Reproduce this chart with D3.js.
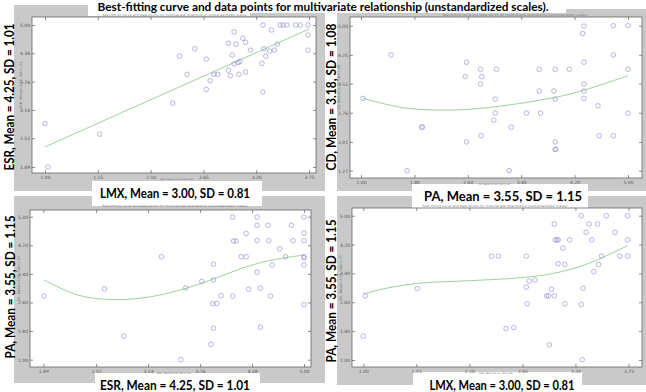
<!DOCTYPE html>
<html>
<head>
<meta charset="utf-8">
<script src="https://cdn.jsdelivr.net/npm/d3@7"></script>
<style>
body { margin: 0; background: #fff; }
svg { display: block; }
.lbl { font-family: Lato, "Open Sans", sans-serif; font-weight: 700; fill: #000; }
.tiny { font-family: "DejaVu Sans", sans-serif; fill: #777; }
.tk text { font-family: "DejaVu Sans", sans-serif; font-size: 4.5px; fill: #555; }
.tk line { stroke: #444; stroke-width: 0.6; }
</style>
</head>
<body>
<svg id="chart" width="646" height="392"></svg>
<script>
// tick labels
const lmxTicks = [1.00, 1.55, 2.10, 2.65, 3.20, 3.75];
const esrTicks = [1.89, 2.52, 3.14, 3.76, 4.38, 5.00];
const cdTicks  = [1.27, 2.01, 2.76, 3.51, 4.25, 5.00];
const paTicks  = [1.00, 1.80, 2.60, 3.40, 4.20, 5.00];

// LMX (x) vs ESR (y)
const lmxEsrX = [1.00,1.03,1.57,2.33,2.40,2.48,2.56,2.68,2.68,2.72,2.76,2.80,2.91,2.91,2.93,2.95,2.97,2.99,2.97,3.01,3.03,3.02,3.06,3.09,3.09,3.14,3.27,3.26,3.27,3.28,3.30,3.34,3.39,3.36,3.42,3.45,3.48,3.52,3.61,3.66,3.74,3.74,3.74];
const lmxEsrY = [2.84,1.89,2.61,3.29,4.32,3.92,4.48,4.25,3.59,3.78,3.92,3.92,4.60,4.01,3.89,4.34,4.85,4.58,4.15,4.18,4.20,3.92,4.71,4.62,3.97,4.45,5.00,4.16,3.53,4.48,4.32,4.43,4.45,4.89,4.58,5.00,5.00,5.00,5.00,5.00,5.00,4.78,4.45];
const lmxEsrCurveX = [1.00, 3.75];
const lmxEsrCurveY = [2.33, 4.91];

// PA (x) vs CD (y)
const paCdX = [1.03,1.45,1.69,1.91,1.92,2.58,2.56,2.58,2.79,2.81,2.79,2.80,3.03,3.01,3.01,2.99,3.22,3.25,3.48,3.67,3.67,3.69,3.91,3.89,3.91,3.91,3.91,3.92,4.12,4.32,4.34,4.34,4.34,4.34,4.34,4.55,4.57,4.78,4.78,4.78,5.00,5.00,5.00];
const paCdY = [3.13,4.25,1.27,2.39,2.39,4.06,3.69,2.01,3.88,3.69,3.50,2.17,3.88,3.11,2.75,2.57,1.27,2.39,2.75,3.88,3.32,2.75,3.88,3.32,3.11,2.01,1.82,1.82,3.88,4.80,4.99,4.06,3.50,3.32,3.13,2.94,2.17,5.00,4.25,2.17,5.00,3.88,2.75];
const paCdCurveX = [1.03, 1.63, 2.13, 2.63, 3.13, 3.63, 4.13, 4.63, 5.00];
const paCdCurveY = [3.13, 2.89, 2.83, 2.85, 2.94, 3.07, 3.24, 3.50, 3.71];

// ESR (x) vs PA (y)
const esrPaX = [1.90,2.62,2.85,3.30,3.53,3.59,3.78,3.89,3.92,3.91,3.96,3.92,3.92,4.01,4.15,4.16,4.19,4.15,4.25,4.31,4.31,4.34,4.44,4.44,4.44,4.44,4.48,4.48,4.57,4.58,4.60,4.62,4.71,4.78,4.85,4.87,5.00,5.00,5.00,5.00,5.00,5.00,5.00];
const esrPaY = [2.78,2.98,1.66,3.88,1.00,3.01,3.19,1.43,1.88,2.57,2.57,3.23,3.67,2.79,4.99,4.32,4.32,2.78,3.88,4.53,3.88,2.97,4.99,4.76,4.33,3.45,3.00,1.91,4.76,4.33,2.78,3.65,4.10,3.88,4.76,4.33,4.99,4.54,4.33,3.88,3.85,3.65,2.54];
const esrPaCurveX = [1.90, 2.30, 2.73, 3.17, 3.60, 3.92, 4.24, 4.56, 5.00];
const esrPaCurveY = [3.23, 2.81, 2.68, 2.76, 3.00, 3.26, 3.54, 3.76, 3.93];

// LMX (x) vs PA (y)
const lmxPaX = [1.00,1.02,1.56,2.33,2.40,2.48,2.56,2.69,2.69,2.72,2.70,2.78,2.90,2.92,2.93,2.95,2.98,2.98,2.99,3.01,3.02,3.02,3.07,3.09,3.09,3.14,3.26,3.26,3.27,3.28,3.31,3.34,3.37,3.39,3.43,3.44,3.47,3.52,3.61,3.66,3.74,3.74,3.74];
const lmxPaY = [1.66,2.78,2.98,3.88,3.88,1.87,1.90,3.88,3.02,3.19,2.56,3.22,2.78,2.78,1.42,2.96,2.78,4.77,4.33,4.33,4.33,3.67,4.10,3.65,2.56,4.33,5.00,2.54,1.01,2.99,4.54,4.77,4.33,3.45,4.77,3.65,3.88,5.00,4.54,3.88,5.00,4.33,3.88];
const lmxPaCurveX = [1.00, 1.24, 1.59, 2.11, 2.63, 2.97, 3.32, 3.74];
const lmxPaCurveY = [2.83, 2.99, 3.13, 3.20, 3.28, 3.40, 3.66, 4.17];

const figTitle = "Best-fitting curve and data points for multivariate relationship (unstandardized scales).";

// layout: gray = figure background, frame = axes box, xr/yr = pixel span of first..last tick
const panels = [
  {xs: lmxEsrX, ys: lmxEsrY, cx: lmxEsrCurveX, cy: lmxEsrCurveY, xt: lmxTicks, yt: esrTicks,
   xLabel: "LMX, Mean = 3.00, SD = 0.81", yLabel: "ESR, Mean = 4.25, SD = 1.01",
   gray: [14, 5, 311, 186], frame: [32, 17, 316, 173], xr: [45, 309], yr: [167, 25],
   box: [92, 181, 262, 206], xl: [175, 198, 150], yl: [14, 97, 147], tt: [175, 16.4]},
  {xs: paCdX, ys: paCdY, cx: paCdCurveX, cy: paCdCurveY, xt: paTicks, yt: cdTicks,
   xLabel: "PA, Mean = 3.55, SD = 1.15", yLabel: "CD, Mean = 3.18, SD = 1.08",
   gray: [337, 9, 309, 182], frame: [350, 17, 642, 178], xr: [361, 628], yr: [170.7, 25.7],
   box: [412, 184, 588, 208], xl: [503, 200.5, 158], yl: [335.5, 97, 147], tt: [515, 16.4]},
  {xs: esrPaX, ys: esrPaY, cx: esrPaCurveX, cy: esrPaCurveY, xt: esrTicks, yt: paTicks,
   xLabel: "ESR, Mean = 4.25, SD = 1.01", yLabel: "PA, Mean = 3.55, SD = 1.15",
   gray: [14, 196, 311, 187], frame: [30, 210, 311, 367], xr: [43.3, 304], yr: [359.7, 216.7],
   box: [95, 373, 260, 392], xl: [175, 389.5, 150], yl: [14.5, 287, 143], tt: [175, 206.5]},
  {xs: lmxPaX, ys: lmxPaY, cx: lmxPaCurveX, cy: lmxPaCurveY, xt: lmxTicks, yt: paTicks,
   xLabel: "LMX, Mean = 3.00, SD = 0.81", yLabel: "PA, Mean = 3.55, SD = 1.15",
   gray: [337, 196, 309, 189], frame: [352, 208, 642, 367], xr: [363.3, 628.5], yr: [360, 215.7],
   box: [413, 372, 582, 392], xl: [502, 390, 145], yl: [335.5, 291, 143], tt: [495, 207]}
];

const svg = d3.select("#chart");
const fmt = d3.format(".2f");

// gray figure backgrounds first, then white label boxes on top of them
panels.forEach(p => {
  svg.append("rect").attr("x", p.gray[0]).attr("y", p.gray[1])
    .attr("width", p.gray[2]).attr("height", p.gray[3]).attr("fill", "#c9c9c9");
});
svg.append("rect").attr("x", 88).attr("y", 0).attr("width", 162).attr("height", 16).attr("fill", "#fff");
svg.append("rect").attr("x", 250).attr("y", 0).attr("width", 316).attr("height", 13).attr("fill", "#fff");
panels.forEach(p => {
  svg.append("rect").attr("x", p.box[0]).attr("y", p.box[1])
    .attr("width", p.box[2] - p.box[0]).attr("height", p.box[3] - p.box[1]).attr("fill", "#fff");
});

panels.forEach(p => {
  const [x0, y0, x1, y1] = p.frame;
  const x = d3.scaleLinear().domain([p.xt[0], p.xt[p.xt.length - 1]]).range(p.xr);
  const y = d3.scaleLinear().domain([p.yt[0], p.yt[p.yt.length - 1]]).range(p.yr);
  const g = svg.append("g");

  g.append("rect").attr("x", x0).attr("y", y0).attr("width", x1 - x0).attr("height", y1 - y0)
    .attr("fill", "#fff").attr("stroke", "#555").attr("stroke-width", 0.7);

  // inward ticks on all four sides, labels only bottom/left
  g.append("g").attr("class", "tk").attr("transform", `translate(0,${y1})`)
    .call(d3.axisBottom(x).tickValues(p.xt).tickFormat(fmt).tickSize(-3).tickPadding(3))
    .call(a => a.select(".domain").remove());
  g.append("g").attr("class", "tk").attr("transform", `translate(0,${y0})`)
    .call(d3.axisTop(x).tickValues(p.xt).tickFormat("").tickSize(-3))
    .call(a => a.select(".domain").remove());
  g.append("g").attr("class", "tk").attr("transform", `translate(${x0},0)`)
    .call(d3.axisLeft(y).tickValues(p.yt).tickFormat(fmt).tickSize(-3).tickPadding(2))
    .call(a => a.select(".domain").remove());
  g.append("g").attr("class", "tk").attr("transform", `translate(${x1},0)`)
    .call(d3.axisRight(y).tickValues(p.yt).tickFormat("").tickSize(-3))
    .call(a => a.select(".domain").remove());

  // fitted curve
  const curve = p.cx.map((v, i) => [v, p.cy[i]]);
  g.append("path").datum(curve)
    .attr("d", d3.line().x(d => x(d[0])).y(d => y(d[1])).curve(d3.curveCatmullRom))
    .attr("fill", "none").attr("stroke", "#9fd09f").attr("stroke-width", 1);

  // data points
  const pts = p.xs.map((v, i) => [v, p.ys[i]]);
  g.selectAll("circle").data(pts).join("circle")
    .attr("cx", d => x(d[0])).attr("cy", d => y(d[1])).attr("r", 2.3)
    .attr("fill", "none").attr("stroke", "#8686cc").attr("stroke-opacity", 0.75).attr("stroke-width", 0.8);

  // tiny axes title and axis names as in the original screenshot
  g.append("text").attr("class", "tiny").attr("x", p.tt[0]).attr("y", p.tt[1])
    .attr("text-anchor", "middle").attr("font-size", 3).attr("textLength", 145)
    .text(figTitle.replace(/\.$/, ""));
  // x name sits between the two middle tick labels
  g.append("text").attr("class", "tiny").attr("x", (x(p.xt[2]) + x(p.xt[3])) / 2).attr("y", y1 + 7)
    .attr("text-anchor", "middle").attr("font-size", 2.5).attr("fill", "#aaa")
    .text(p.xLabel.replace(/ = /g, "="));
  g.append("text").attr("class", "tiny")
    .attr("transform", `translate(${x0 - 10},${(y0 + y1) / 2 - 10}) rotate(-90)`)
    .attr("text-anchor", "middle").attr("font-size", 3.5)
    .text(p.yLabel.replace(/ = /g, "="));

  // big bold axis labels
  svg.append("text").attr("class", "lbl").attr("x", p.xl[0]).attr("y", p.xl[1])
    .attr("text-anchor", "middle").attr("font-size", 14)
    .attr("textLength", p.xl[2]).attr("lengthAdjust", "spacingAndGlyphs").text(p.xLabel);
  svg.append("text").attr("class", "lbl")
    .attr("transform", `translate(${p.yl[0]},${p.yl[1]}) rotate(-90)`)
    .attr("text-anchor", "middle").attr("font-size", 13.5)
    .attr("textLength", p.yl[2]).attr("lengthAdjust", "spacingAndGlyphs").text(p.yLabel);
});

// figure title, sitting right at the top edge as in the screenshot
svg.append("text").attr("class", "lbl").attr("x", 323).attr("y", 11)
  .attr("text-anchor", "middle").attr("font-size", 11)
  .attr("textLength", 451).attr("lengthAdjust", "spacingAndGlyphs").text(figTitle);
</script>
</body>
</html>
